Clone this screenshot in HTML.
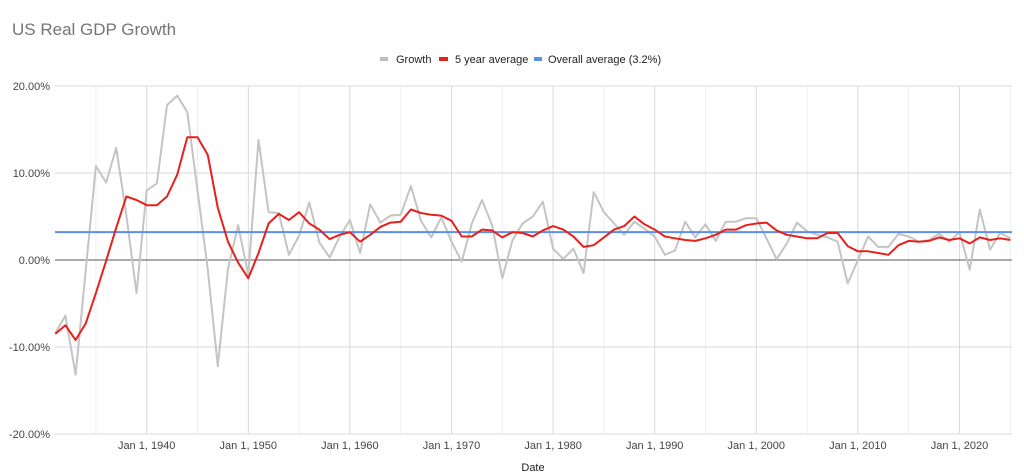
<!DOCTYPE html>
<html><head><meta charset="utf-8"><style>
body{margin:0;background:#fff;}
svg{display:block;font-family:"Liberation Sans",Arial,sans-serif;}
</style></head><body>
<svg id="chart" width="1024" height="475">
<text x="12" y="35" font-size="17" fill="#757575">US Real GDP Growth</text>
<g>
 <g><rect x="380" y="57" width="8" height="4" fill="#bdbdbd"/><text x="396" y="63" font-size="11" fill="#222">Growth</text></g>
 <g><rect x="439" y="57" width="9" height="4" fill="#e8201d"/><text x="455" y="63" font-size="11" fill="#222">5 year average</text></g>
 <g><rect x="534" y="57" width="8" height="4" fill="#5b8fe8"/><text x="548" y="63" font-size="11" fill="#222">Overall average (3.2%)</text></g>
</g>
<g id="grid"></g><g id="yticks"></g><g id="xticks"></g><g id="series"></g>
<text x="533" y="471" font-size="11" fill="#222" text-anchor="middle">Date</text>
</svg>
<script>
const startYear = 1931;
const growth = [-8.4,-6.4,-13.2,-1.2,10.8,8.9,12.9,5.1,-3.8,8.0,8.8,17.8,18.9,17.0,8.0,-1.0,-12.2,-1.0,4.0,-1.7,13.8,5.5,5.4,0.6,2.8,6.6,2.0,0.3,2.7,4.6,0.8,6.4,4.3,5.1,5.2,8.5,4.5,2.6,4.9,2.1,-0.2,4.2,6.9,4.0,-2.1,2.3,4.2,5.0,6.7,1.3,0.1,1.3,-1.5,7.8,5.5,4.2,2.9,4.4,3.6,2.7,0.6,1.1,4.4,2.6,4.1,2.2,4.4,4.4,4.8,4.8,2.5,0.1,1.9,4.3,3.3,2.9,2.6,2.1,-2.7,0.0,2.7,1.5,1.5,3.0,2.7,2.1,2.3,3.0,2.1,3.2,-1.1,5.8,1.2,3.1,2.5];
const avg5 = [-8.5,-7.5,-9.2,-7.3,-3.8,-0.1,3.7,7.3,6.9,6.3,6.3,7.3,9.8,14.1,14.1,12.1,6.0,2.1,-0.3,-2.1,0.8,4.2,5.3,4.6,5.5,4.2,3.5,2.4,2.9,3.2,2.1,2.9,3.8,4.3,4.4,5.8,5.4,5.2,5.1,4.5,2.7,2.7,3.5,3.4,2.6,3.2,3.1,2.7,3.4,3.9,3.5,2.7,1.5,1.7,2.6,3.5,3.9,5.0,4.1,3.5,2.7,2.5,2.3,2.2,2.5,2.9,3.5,3.5,4.0,4.2,4.3,3.4,2.9,2.7,2.5,2.5,3.1,3.1,1.6,1.0,1.0,0.8,0.6,1.7,2.2,2.1,2.2,2.6,2.3,2.5,1.9,2.6,2.3,2.5,2.3];
const overallAvg = 3.2;
const yTicks = [20,10,0,-10,-20];
const xTickYears = [1940,1950,1960,1970,1980,1990,2000,2010,2020];

const NS='http://www.w3.org/2000/svg';
const X0=55, X1=1012, Y0=86, Y1=434;
function xs(year){return 146.7+(year-1940)*10.16;}
function ys(v){return 260-v*8.7;}
function mk(tag,attrs,parent){const e=document.createElementNS(NS,tag);for(const k in attrs)e.setAttribute(k,attrs[k]);document.getElementById(parent).appendChild(e);return e;}

for(let y=1935;y<=2025;y+=5){
 const l=mk('line',{x1:xs(y),x2:xs(y),y1:Y0,y2:Y1,stroke:(y%10===0)?'#d9d9d9':'#eeeeee','stroke-width':1},'grid');
 
 
}
yTicks.forEach(t=>{
 const l=mk('line',{x1:X0,x2:X1,y1:ys(t),y2:ys(t),stroke:t===0?'#555':'#d9d9d9','stroke-width':1},'grid');
 
 
 const tx=mk('text',{x:50,y:ys(t)+4,'font-size':11,fill:'#444','text-anchor':'end'},'yticks');
 tx.textContent=t.toFixed(2)+'%';
 
 
});
xTickYears.forEach(y=>{
 const tx=mk('text',{x:xs(y),y:449,'font-size':11,fill:'#444','text-anchor':'middle'},'xticks');
 tx.textContent='Jan 1, '+y;
 
 
});
function pts(arr){return arr.map((v,i)=>xs(startYear+i).toFixed(1)+','+ys(v).toFixed(1)).join(' ');}
const g=mk('polyline',{points:pts(growth),fill:'none',stroke:'#c4c4c4','stroke-width':2,'stroke-linejoin':'round'},'series');


const b=mk('line',{x1:X0,x2:X1,y1:ys(overallAvg),y2:ys(overallAvg),stroke:'#5b8fe8','stroke-width':2},'series');


const r=mk('polyline',{points:pts(avg5),fill:'none',stroke:'#e8201d','stroke-width':2,'stroke-linejoin':'round'},'series');


</script>
</body></html>
